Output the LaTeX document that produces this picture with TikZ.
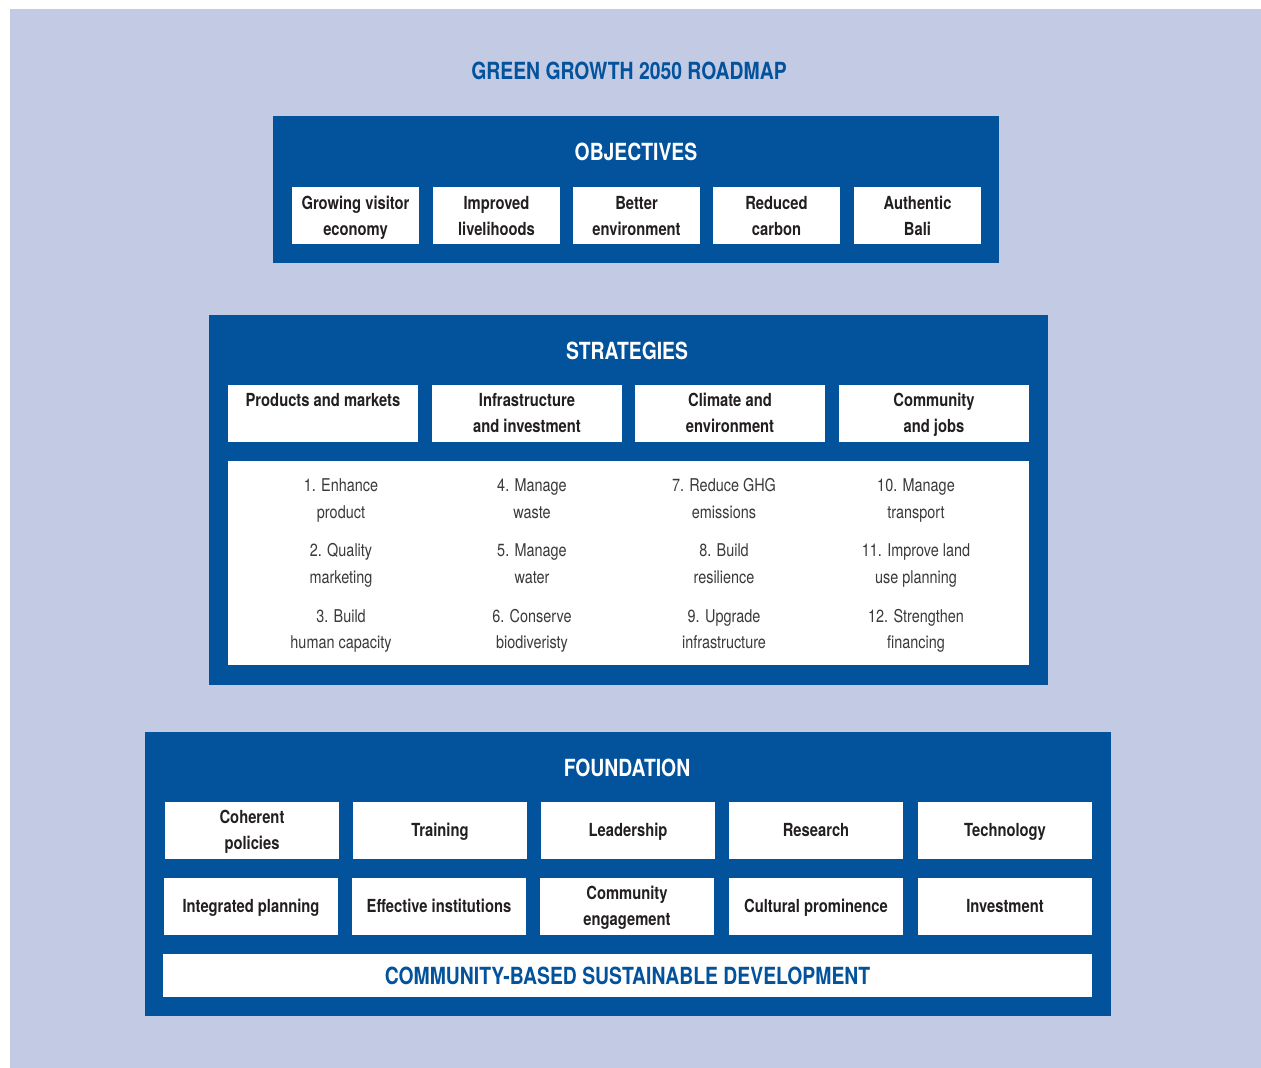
\documentclass[tikz,border=0pt]{standalone}
\usepackage{fontspec}
\setmainfont{TeX Gyre Heros}[FakeStretch=0.82]
\definecolor{bgblue}{HTML}{C3CAE4}
\definecolor{dkblue}{HTML}{02529C}
\definecolor{txtc}{HTML}{231F20}
\definecolor{itmc}{HTML}{3A3A3A}
\newcommand\Ls{\rule[-5pt]{0pt}{23pt}}
\newcommand\twol[2]{\Ls#1\\\Ls#2}
\newcommand\onel[1]{\Ls#1}
\begin{document}
\begin{tikzpicture}[x=1pt,y=-1pt,
  panel/.style={fill=dkblue,draw=none,inner sep=0pt,outer sep=0pt},
  cell/.style={fill=white,draw=none,inner sep=0pt,outer sep=0pt,align=center,
    font=\fontsize{18}{26}\selectfont\bfseries,text=txtc},
  objcell/.style={cell,minimum width=127,minimum height=57},
  strcell/.style={cell,minimum width=190,minimum height=57},
  fndcell/.style={cell,minimum width=174,minimum height=57},
  item/.style={inner sep=0pt,align=center,font=\fontsize{17.6}{26.5}\selectfont,text=itmc},
  ttl/.style={inner sep=0pt,anchor=base,font=\fontsize{23.6}{28}\selectfont\bfseries,text=white},
]
\useasboundingbox (0,0) rectangle (1261,1068);
\fill[white] (0,0) rectangle (1261,1068);
\fill[bgblue] (10,9) rectangle (1261,1068);

\node[ttl,text=dkblue] (title) at (629,79.5) {GREEN GROWTH 2050 ROADMAP};

% Objectives
\node[panel,minimum width=726,minimum height=147] (obj) at (636,189.5) {};
\node[ttl] (objt) at (636,160) {OBJECTIVES};
\node[objcell] (o1) at (355.5,215.5) {\twol{Growing visitor}{economy}};
\node[objcell] (o2) at (496.5,215.5) {\twol{Improved}{livelihoods}};
\node[objcell] (o3) at (636.5,215.5) {\twol{Better}{environment}};
\node[objcell] (o4) at (776.5,215.5) {\twol{Reduced}{carbon}};
\node[objcell] (o5) at (917.5,215.5) {\twol{Authentic}{Bali}};

% Strategies
\node[panel,minimum width=839,minimum height=370] (str) at (628.5,500) {};
\node[ttl] (strt) at (627,359.5) {STRATEGIES};
\node[strcell] (s1) at (323,413) {\twol{Products and markets}{}};
\node[strcell] (s2) at (527,413) {\twol{Infrastructure}{and investment}};
\node[strcell] (s3) at (730,413) {\twol{Climate and}{environment}};
\node[strcell] (s4) at (934,413) {\twol{Community}{and jobs}};
\node[cell,minimum width=801,minimum height=204] (list) at (628.5,563) {};
\node[item] (i1) at (341,498.5) {\twol{1. Enhance}{product}};
\node[item] (i2) at (341,563.5) {\twol{2. Quality}{marketing}};
\node[item] (i3) at (341,629) {\twol{3. Build}{human capacity}};
\node[item] (i4) at (532,498.5) {\twol{4. Manage}{waste}};
\node[item] (i5) at (532,563.5) {\twol{5. Manage}{water}};
\node[item] (i6) at (532,629) {\twol{6. Conserve}{biodiveristy}};
\node[item] (i7) at (724,498.5) {\twol{7. Reduce GHG}{emissions}};
\node[item] (i8) at (724,563.5) {\twol{8. Build}{resilience}};
\node[item] (i9) at (724,629) {\twol{9. Upgrade}{infrastructure}};
\node[item] (i10) at (916,498.5) {\twol{10. Manage}{transport}};
\node[item] (i11) at (916,563.5) {\twol{11. Improve land}{use planning}};
\node[item] (i12) at (916,629) {\twol{12. Strengthen}{financing}};

% Foundation
\node[panel,minimum width=966,minimum height=284] (fnd) at (628,874) {};
\node[ttl] (fndt) at (627,776.5) {FOUNDATION};
\node[fndcell] (f1) at (252,830) {\twol{Coherent}{policies}};
\node[fndcell] (f2) at (440,830) {\onel{Training}};
\node[fndcell] (f3) at (628,830) {\onel{Leadership}};
\node[fndcell] (f4) at (816,830) {\onel{Research}};
\node[fndcell] (f5) at (1005,830) {\onel{Technology}};
\node[fndcell] (g1) at (251,906) {\onel{Integrated planning}};
\node[fndcell] (g2) at (439,906) {\onel{Effective institutions}};
\node[fndcell] (g3) at (627,906) {\twol{Community}{engagement}};
\node[fndcell] (g4) at (816,906) {\onel{Cultural prominence}};
\node[fndcell] (g5) at (1005,906) {\onel{Investment}};
\node[cell,minimum width=929,minimum height=43] (bar) at (627.5,975.5) {};
\node[ttl,text=dkblue] (bart) at (627.5,984) {COMMUNITY-BASED SUSTAINABLE DEVELOPMENT};
\end{tikzpicture}
\end{document}
